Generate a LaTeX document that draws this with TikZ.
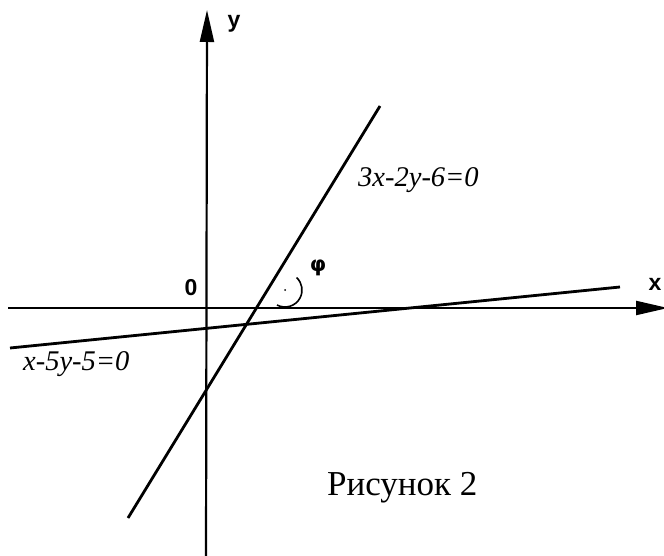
\documentclass[tikz,border=0pt]{standalone}
\usepackage{fontspec}
\setmainfont{Liberation Serif}
\newfontfamily\axisfont{Liberation Sans}
\newfontfamily\symfont{DejaVu Sans}
\usetikzlibrary{arrows.meta}
\begin{document}
\begin{tikzpicture}[
  x=1pt, y=-1pt,
  axis/.style={line width=2.2pt, -{Triangle[length=32pt,width=14pt]}},
  graph/.style={line width=2.8pt},
  eqn/.style={font=\fontsize{28.5}{30}\selectfont\itshape, inner sep=0pt, anchor=base west},
  axlabel/.style={font=\axisfont\bfseries\fontsize{23}{26}\selectfont, inner sep=0pt}
]
\clip (0,0) rectangle (664,556);
% axes
\coordinate (xstart) at (8,308);
\coordinate (xend) at (668,308);
\coordinate (ystart) at (206,560);
\coordinate (yend) at (207,10);
\draw[axis] (xstart) -- (xend);
\draw[axis] (ystart) -- (yend);
\node[axlabel] (ylab) at (234,24) {y};
\node[axlabel] (xlab) at (655,284) {x};
\node[axlabel] (orig) at (191,288) {0};
% lines
\coordinate (a1) at (128,518);
\coordinate (a2) at (380,106);
\coordinate (b1) at (10,348);
\coordinate (b2) at (620,287);
\draw[graph] (a1) -- (a2);
\draw[graph] (b1) -- (b2);
\node[eqn] (eqa) at (358,187) {3x-2y-6=0};
\node[eqn] (eqb) at (23,370) {x-5y-5=0};
% angle
\coordinate (ctr) at (285,290);
\draw[line width=1.6pt] (ctr) ++(118:17) arc[start angle=118, end angle=-47, radius=17];
\fill (ctr) circle[radius=1pt];
\node[font=\symfont\bfseries\fontsize{21}{24}\selectfont, inner sep=0pt] (phi) at (318,268) {φ};
\node[font=\fontsize{35}{38}\selectfont, inner sep=0pt, anchor=base west] (cap) at (327,495) {Рисунок 2};
\end{tikzpicture}
\end{document}
